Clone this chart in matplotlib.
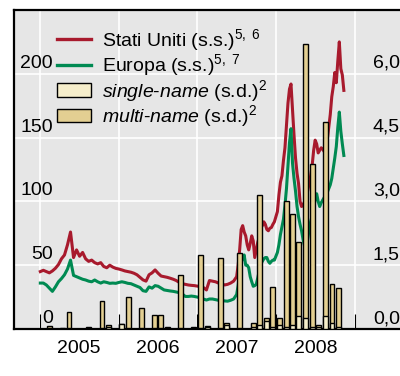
import matplotlib
matplotlib.use('Agg')
import matplotlib.pyplot as plt
from matplotlib.lines import Line2D
from matplotlib.patches import Patch
from matplotlib.transforms import ScaledTranslation
import pandas as pd

plt.rcParams['font.family'] = ['Liberation Sans', 'DejaVu Sans']
plt.rcParams['mathtext.fontset'] = 'custom'
plt.rcParams['mathtext.rm'] = 'Liberation Sans'
plt.rcParams['mathtext.it'] = 'Liberation Sans:italic'

# ---------------- data ----------------
# CDS premia (left scale, basis points): biweekly to mid-2007, weekly after
dates_a = pd.date_range('2005-01-03', periods=65, freq='14D')
dates_b = pd.date_range('2007-07-02', periods=72, freq='7D')

usa_a = [45, 46, 45, 44, 45.5, 47.6, 50.5, 55, 58, 66, 76, 56, 62, 57, 60, 55, 53, 54, 52, 51,
         52, 49, 48, 50, 48.5, 47.5, 47, 46.3, 45.5, 45, 44.5, 43.7, 42.5, 40.5, 38.5, 37.5, 42.5, 44, 46.3, 43.7,
         41.5, 41, 40.5, 39.8, 39, 38, 36.5, 35.5, 35, 34.5, 34.2, 34, 33.6, 33.2, 32.5, 30.6, 38, 37.5, 37, 36,
         35.5, 34.5, 35, 36, 37.5]
usa_b = [41, 50, 62, 78, 81, 76, 73, 66, 62, 67, 73, 69, 56, 62, 68, 72, 79, 81, 84, 82,
         78, 77, 79, 79.5, 82, 84, 88, 92, 105, 115, 120, 132, 142, 160, 177, 188, 192, 172, 152, 134,
         122, 114, 100, 96, 97, 100, 104, 108, 114, 120, 128, 140, 148, 145, 138, 140, 142, 141, 139, 143,
         148, 158, 168, 182, 190, 201, 193, 210, 225, 204, 199, 187]

eur_a = [36, 36, 34.5, 32, 29.5, 33, 37, 39.5, 42.5, 47, 54, 42, 41, 40, 39, 38.4, 37.5, 37, 38.4, 37,
         36, 37, 36.5, 35.8, 36, 35.8, 36.5, 37, 36.5, 35.8, 35.5, 34.5, 33.5, 32.5, 30, 29.5, 33, 32, 34, 33.5,
         32, 30.6, 30.2, 29.8, 29.5, 29, 28.5, 27.5, 25.5, 25.5, 25.8, 25.5, 25, 24.5, 23.5, 22.7, 23.5, 23.5, 23, 22.5,
         22.5, 22, 21.8, 22.5, 23.5]
eur_b = [27, 34, 44, 52, 56, 58, 50, 50, 48, 41, 37, 33.5, 34, 35, 40, 46, 51, 53, 55, 56,
         56, 53, 51.5, 53, 54, 54, 57, 60, 66, 74, 80, 86, 97, 110, 128, 146, 157, 130, 118, 108,
         96, 88, 82, 77, 70, 65, 66, 70, 78, 84, 89, 94, 102, 106, 100, 96, 99, 101, 103, 105,
         107, 110, 113, 118, 126, 134, 143, 158, 170, 155, 145, 136]

# CDO issuance (right scale), monthly Jan 2005 - Oct 2008
months = pd.date_range('2005-01-01', periods=46, freq='MS') + pd.Timedelta(days=15)
multi_name = [0, 0.07, 0, 0.02, 0.40, 0, 0, 0.05, 0, 0.66, 0.09, 0, 0.12, 0.76, 0, 0.50, 0, 0.34, 0.34, 0.04,
              0, 1.27, 0, 0.05, 1.74, 0.08, 0, 1.66, 0.15, 0, 1.78, 0, 0.15, 3.14, 0.25, 0.98, 0.27, 3.0, 2.71, 2.05,
              6.7, 3.87, 0.10, 4.86, 1.05, 0.97]
single_name = [0, 0.03, 0, 0.01, 0.02, 0, 0, 0.02, 0, 0.02, 0.05, 0, 0.12, 0.03, 0, 0.02, 0, 0.02, 0.02, 0.02,
               0, 0.02, 0, 0.03, 0.02, 0.04, 0, 0.02, 0.09, 0, 0.02, 0, 0.05, 0.10, 0.19, 0.05, 0.10, 0.05, 0.10, 0.31,
               0.25, 0.05, 0.04, 0.31, 0.14, 0.05]

left_ticks = [0, 50, 100, 150, 200]
left_labels = ['0', '50', '100', '150', '200']
right_ticks = [0, 1.5, 3.0, 4.5, 6.0]
right_labels = ['0,0', '1,5', '3,0', '4,5', '6,0']
years = [2005, 2006, 2007, 2008]

# ---------------- style ----------------
RED = '#a81a2d'
GREEN = '#008a52'
TAN = '#e3cf92'
CREAM = '#f6eecb'
BG = '#e6e6e6'
FS = 14

fig = plt.figure(figsize=(4.0, 3.76), dpi=100)
ax = fig.add_axes([14/400, 47/376, 406/400, 319/376])
ax.set_facecolor(BG)

dates = list(dates_a) + list(dates_b)
ax.plot(dates, usa_a + usa_b, color=RED, lw=2.2, solid_joinstyle='round')
ax.plot(dates, eur_a + eur_b, color=GREEN, lw=2.2, solid_joinstyle='round')

ax.set_ylim(0, 250)
ax.set_xlim(pd.Timestamp('2004-09-03'), pd.Timestamp('2009-10-29'))
ax.set_yticks(left_ticks)
ax.tick_params(axis='y', length=0, labelleft=False)
ax.set_xticks([pd.Timestamp(f'{y}-01-01') for y in years + [2009]])
ax.set_xticks([pd.Timestamp(f'{y}-07-02') for y in years], minor=True)
ax.set_xticklabels([str(y) for y in years], minor=True, fontsize=FS)
ax.tick_params(axis='x', which='major', direction='in', length=11, width=0.8, color='black',
               labelbottom=False)
ax.tick_params(axis='x', which='minor', length=0, pad=8)
ax.grid(True, which='major', color='white', lw=1.2)
ax.set_axisbelow(True)
for s in ['left', 'top', 'bottom']:
    ax.spines[s].set_linewidth(1.6)
    ax.spines[s].set_color('black')
ax.spines['right'].set_visible(False)

ax2 = ax.twinx()
ax2.set_ylim(0, 7.5)
ax2.bar(months, multi_name, width=23, color=TAN, edgecolor='black', lw=1.0)
ax2.bar(months, single_name, width=23, color=CREAM, edgecolor='black', lw=1.0)
ax2.set_yticks([])
for s in ax2.spines.values():
    s.set_visible(False)

off = ScaledTranslation(0, 6/100, fig.dpi_scale_trans)
for v, lab in zip(left_ticks, left_labels):
    ax.text(0.096, v, lab, transform=ax.get_yaxis_transform() + off, ha='right', va='baseline',
            fontsize=FS)
for v, lab in zip(right_ticks, right_labels):
    ax2.text(0.884, v, lab, transform=ax2.get_yaxis_transform() + off, ha='left', va='baseline',
             fontsize=FS)

handles = [Line2D([], [], color=RED, lw=2.4), Line2D([], [], color=GREEN, lw=2.4),
           Patch(facecolor=CREAM, edgecolor='black', lw=1.0), Patch(facecolor=TAN, edgecolor='black', lw=1.0)]
labels = [r'Stati Uniti (s.s.)$^{5,\ 6}$', r'Europa (s.s.)$^{5,\ 7}$',
          r'$\mathit{single}$-$\mathit{name}$ (s.d.)$^{2}$', r'$\mathit{multi}$-$\mathit{name}$ (s.d.)$^{2}$']
leg = ax2.legend(handles, labels, loc='upper left', bbox_to_anchor=(0.106, 0.947), frameon=False,
                 fontsize=FS, borderpad=0, borderaxespad=0, handlelength=1.75, handleheight=0.7,
                 handletextpad=0.55, labelspacing=-0.02)

fig.savefig('out.png', dpi=100)
